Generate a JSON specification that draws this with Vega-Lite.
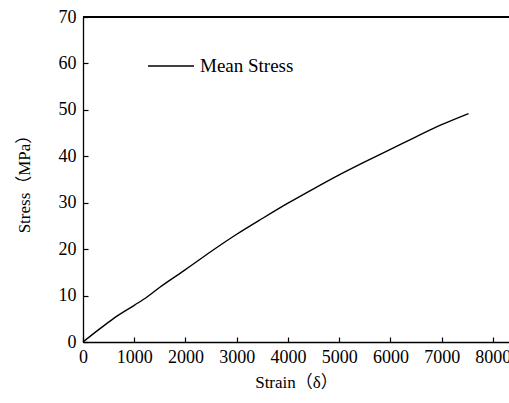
{
  "$schema": "https://vega.github.io/schema/vega-lite/v6.json",
  "width": 426,
  "height": 325,
  "autosize": {"type": "none"},
  "padding": {"left": 83, "top": 17, "right": 0, "bottom": 61},
  "background": "white",
  "config": {
    "view": {"stroke": null},
    "font": "Liberation Serif",
    "style": {
      "guide-label": {"font": "Liberation Serif", "fill": "black"},
      "guide-title": {"font": "Liberation Serif, Noto Sans CJK SC", "fill": "black"}
    },
    "axis": {
      "domainColor": "black",
      "domainWidth": 1.3,
      "tickColor": "black",
      "tickWidth": 1.2,
      "tickSize": -5,
      "labelColor": "black",
      "labelFont": "Liberation Serif",
      "labelFontSize": 18,
      "titleFont": "Liberation Serif, Noto Sans CJK SC",
      "titleFontSize": 16,
      "titleFontWeight": "normal",
      "titleColor": "black",
      "grid": false
    }
  },
  "data": {
    "values": [
      {"strain": 0, "stress": 0, "series": "Mean Stress"},
      {"strain": 300, "stress": 2.6, "series": "Mean Stress"},
      {"strain": 600, "stress": 5.1, "series": "Mean Stress"},
      {"strain": 1000, "stress": 7.9, "series": "Mean Stress"},
      {"strain": 1250, "stress": 9.7, "series": "Mean Stress"},
      {"strain": 1500, "stress": 11.8, "series": "Mean Stress"},
      {"strain": 2000, "stress": 15.6, "series": "Mean Stress"},
      {"strain": 2500, "stress": 19.5, "series": "Mean Stress"},
      {"strain": 3000, "stress": 23.2, "series": "Mean Stress"},
      {"strain": 3500, "stress": 26.6, "series": "Mean Stress"},
      {"strain": 4000, "stress": 29.9, "series": "Mean Stress"},
      {"strain": 4500, "stress": 33.0, "series": "Mean Stress"},
      {"strain": 5000, "stress": 36.0, "series": "Mean Stress"},
      {"strain": 5500, "stress": 38.8, "series": "Mean Stress"},
      {"strain": 6000, "stress": 41.5, "series": "Mean Stress"},
      {"strain": 6500, "stress": 44.2, "series": "Mean Stress"},
      {"strain": 7000, "stress": 46.8, "series": "Mean Stress"},
      {"strain": 7525, "stress": 49.2, "series": "Mean Stress"}
    ]
  },
  "layer": [
    {
      "mark": {"type": "line", "strokeWidth": 1.4, "clip": false, "interpolate": "monotone"},
      "encoding": {
        "x": {
          "field": "strain",
          "type": "quantitative",
          "scale": {"domain": [0, 8315], "nice": false, "zero": true},
          "axis": {
            "values": [0, 1000, 2000, 3000, 4000, 5000, 6000, 7000, 8000],
            "format": "d",
            "labelFont": "Liberation Serif",
            "titleFont": "Liberation Serif, Noto Sans CJK SC",
            "labelPadding": 11,
            "labelFlush": false,
            "labelOverlap": false,
            "title": "Strain（δ）",
            "titleFontSize": 17,
            "titlePadding": 8
          }
        },
        "y": {
          "field": "stress",
          "type": "quantitative",
          "scale": {"domain": [0, 70], "nice": false},
          "axis": {
            "values": [0, 10, 20, 30, 40, 50, 60, 70],
            "labelFont": "Liberation Serif",
            "titleFont": "Liberation Serif, Noto Sans CJK SC",
            "labelPadding": 12,
            "labelFlush": false,
            "labelOverlap": false,
            "title": "Stress（MPa）",
            "titleFontSize": 17,
            "titlePadding": 25
          }
        },
        "color": {
          "field": "series",
          "type": "nominal",
          "scale": {"range": ["black"]},
          "legend": {
            "title": null,
            "orient": "none",
            "legendX": 64,
            "legendY": 25,
            "padding": 0,
            "symbolType": "stroke",
            "symbolSize": 2116,
            "symbolStrokeWidth": 1.4,
            "symbolStrokeColor": "black",
            "labelFont": "Liberation Serif",
            "labelFontSize": 19,
            "labelColor": "black",
            "labelOffset": 5
          }
        }
      }
    },
    {
      "mark": {"type": "rule", "color": "black", "strokeWidth": 1.3},
      "encoding": {"y": {"datum": 70}}
    }
  ]
}
